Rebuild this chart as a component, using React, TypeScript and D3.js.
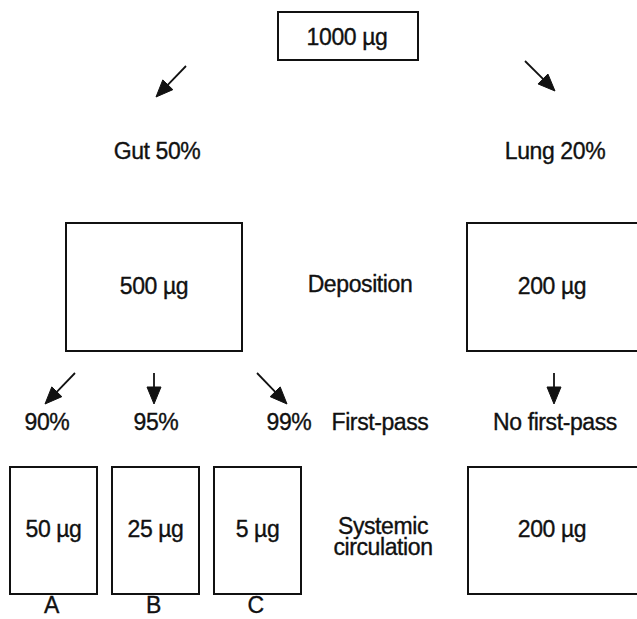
import * as React from "react";
import * as d3 from "d3";

// dose flow values
const totalDose = 1000;
const routes = ["Gut", "Lung"];
const routeShares = [50, 20];
const depositedDoses = [500, 200];
const firstPassRates = [90, 95, 99];
const systemicDoses = [50, 25, 5];
const formulations = ["A", "B", "C"];
const lungFirstPass = "No first-pass";
const rowLabels = ["Deposition", "First-pass", ["Systemic", "circulation"]];

const W = 637;
const H = 619;
const FONT = "'Liberation Sans', Arial, Helvetica, sans-serif";
const FS = 23;

// layout (row positions)
const rows = {
  topBox: [12, 60],
  routeArrow: [66, 97],
  routeLabel: 159,
  depBox: [223, 351],
  depText: 294,
  fpArrow: [373, 404],
  fpLabel: 430,
  sysBox: [467, 594],
  sysText: 537,
  colLabel: 613,
};
const branchDx = [-79, 0, 103];
const branchLean = [-30, 0, 30];

const ug = (v: number) => `${v} \u00b5g`;

function arrow(x1: number, y1: number, x2: number, y2: number) {
  const a = Math.atan2(y2 - y1, x2 - x1);
  const len = 17;
  const half = 7;
  const bx = x2 - len * Math.cos(a);
  const by = y2 - len * Math.sin(a);
  const nx = -Math.sin(a) * half;
  const ny = Math.cos(a) * half;
  const line = d3.path();
  line.moveTo(x1, y1);
  line.lineTo(bx, by);
  const head = d3.path();
  head.moveTo(x2, y2);
  head.lineTo(bx + nx, by + ny);
  head.lineTo(bx - nx, by - ny);
  head.closePath();
  return { line: line.toString(), head: head.toString() };
}

function Arrow({ x1, y1, x2, y2 }: { x1: number; y1: number; x2: number; y2: number }) {
  const p = arrow(x1, y1, x2, y2);
  return (
    <g>
      <path d={p.line} stroke="#111" strokeWidth={1.8} fill="none" />
      <path d={p.head} fill="#111" stroke="#111" strokeWidth={1} />
    </g>
  );
}

export default function App() {
  // route columns (Gut / Lung)
  const routeX = d3.scalePoint<string>().domain(routes).range([154, 552]);
  const gutX = routeX("Gut")!;
  const lungX = routeX("Lung")!;

  // systemic formulation boxes A, B, C
  const colX = d3
    .scaleBand<string>()
    .domain(formulations)
    .range([10, 301])
    .paddingInner(0.147)
    .paddingOuter(0);
  const bw = colX.bandwidth();

  const txt = {
    fontFamily: FONT,
    fontSize: FS,
    letterSpacing: -0.4,
    fill: "#111",
    stroke: "#111",
    strokeWidth: 0.35,
    textAnchor: "middle" as const,
  };
  const box = { fill: "none", stroke: "#111", strokeWidth: 2 };

  const topCx = 347;

  return (
    <svg
      width={W}
      height={H}
      viewBox={`0 0 ${W} ${H}`}
      style={{ position: "absolute", left: 0, top: 0, background: "#fff" }}
    >
      <rect x={0} y={0} width={W} height={H} fill="#fff" />

      {/* total dose */}
      <rect x={278} y={rows.topBox[0]} width={140} height={rows.topBox[1] - rows.topBox[0]} {...box} />
      <text x={topCx} y={45} {...txt}>
        {ug(totalDose)}
      </text>

      {/* split to gut and lung */}
      <Arrow x1={gutX + 32} y1={rows.routeArrow[0]} x2={gutX + 2} y2={rows.routeArrow[1]} />
      <Arrow x1={lungX - 27} y1={rows.routeArrow[0] - 5} x2={lungX + 3} y2={rows.routeArrow[1] - 6} />
      {routes.map((r, i) => (
        <text key={r} x={routeX(r)! + 3} y={rows.routeLabel} {...txt}>
          {`${r} ${routeShares[i]}%`}
        </text>
      ))}

      {/* deposition */}
      <rect x={gutX - 88} y={rows.depBox[0]} width={176} height={rows.depBox[1] - rows.depBox[0]} {...box} />
      <rect x={lungX - 85} y={rows.depBox[0]} width={220} height={rows.depBox[1] - rows.depBox[0]} {...box} />
      {depositedDoses.map((d, i) => (
        <text key={i} x={routeX(routes[i])!} y={rows.depText} {...txt}>
          {ug(d)}
        </text>
      ))}
      <text x={360} y={rows.depText - 2} {...txt}>
        {rowLabels[0] as string}
      </text>

      {/* first pass */}
      {firstPassRates.map((r, i) => {
        const sx = gutX + branchDx[i];
        const tx = sx + branchLean[i];
        return (
          <g key={r}>
            <Arrow x1={sx} y1={rows.fpArrow[0]} x2={tx} y2={rows.fpArrow[1]} />
            <text x={tx + 2} y={rows.fpLabel} {...txt}>
              {`${r}%`}
            </text>
          </g>
        );
      })}
      <Arrow x1={lungX + 2} y1={rows.fpArrow[0]} x2={lungX + 2} y2={rows.fpArrow[1]} />
      <text x={lungX + 3} y={rows.fpLabel} {...txt}>
        {lungFirstPass}
      </text>
      <text x={380} y={rows.fpLabel} {...txt}>
        {rowLabels[1] as string}
      </text>

      {/* systemic circulation */}
      {formulations.map((f, i) => (
        <g key={f}>
          <rect
            x={colX(f)!}
            y={rows.sysBox[0]}
            width={bw}
            height={rows.sysBox[1] - rows.sysBox[0]}
            {...box}
          />
          <text x={colX(f)! + bw / 2} y={rows.sysText} {...txt}>
            {ug(systemicDoses[i])}
          </text>
          <text x={colX(f)! + bw / 2 - 2} y={rows.colLabel} {...txt}>
            {f}
          </text>
        </g>
      ))}
      <rect x={lungX - 84} y={rows.sysBox[0]} width={220} height={rows.sysBox[1] - rows.sysBox[0]} {...box} />
      <text x={lungX} y={rows.sysText} {...txt}>
        {ug(depositedDoses[1])}
      </text>
      <text x={383} y={534} {...txt}>
        {(rowLabels[2] as string[]).map((l, k) => (
          <tspan key={l} x={383} dy={k === 0 ? 0 : 21}>
            {l}
          </tspan>
        ))}
      </text>
    </svg>
  );
}
